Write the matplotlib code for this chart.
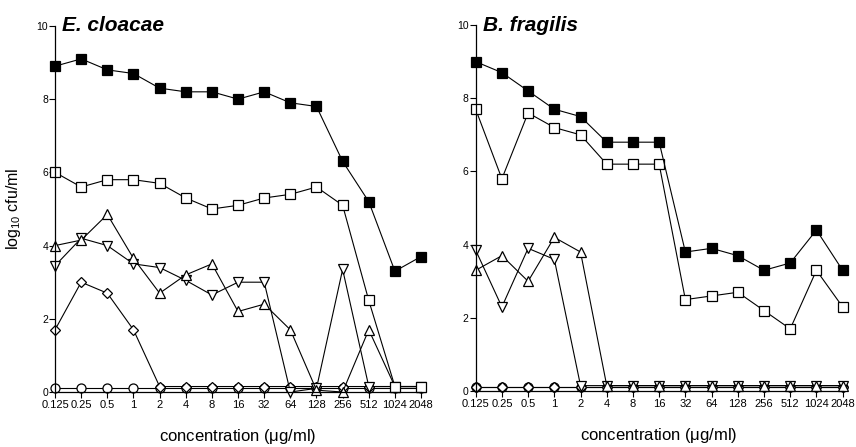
import matplotlib
matplotlib.use('Agg')
import matplotlib.pyplot as plt
import numpy as np

plt.rcParams['font.family'] = ['Liberation Sans', 'DejaVu Sans']

conc = ['0.125', '0.25', '0.5', '1', '2', '4', '8', '16', '32', '64',
        '128', '256', '512', '1024', '2048']

# E. cloacae
ec_filled_sq = [8.9, 9.1, 8.8, 8.7, 8.3, 8.2, 8.2, 8.0, 8.2, 7.9, 7.8, 6.3, 5.2, 3.3, 3.7]
ec_open_sq = [6.0, 5.6, 5.8, 5.8, 5.7, 5.3, 5.0, 5.1, 5.3, 5.4, 5.6, 5.1, 2.5, 0.15, 0.15]
ec_up_tri = [4.0, 4.15, 4.85, 3.65, 2.7, 3.2, 3.5, 2.2, 2.4, 1.7, 0.05, 0.0, 1.7, 0.15, 0.15]
ec_down_tri = [3.45, 4.2, 4.0, 3.5, 3.4, 3.05, 2.65, 3.0, 3.0, 0.0, 0.1, 3.35, 0.15, 0.15, 0.15]
ec_diamond = [1.7, 3.0, 2.7, 1.7, 0.15, 0.15, 0.15, 0.15, 0.15, 0.15, 0.15, 0.15, 0.15, 0.15, 0.15]
ec_circle = [0.1] * 15

# B. fragilis
bf_filled_sq = [9.0, 8.7, 8.2, 7.7, 7.5, 6.8, 6.8, 6.8, 3.8, 3.9, 3.7, 3.3, 3.5, 4.4, 3.3]
bf_open_sq = [7.7, 5.8, 7.6, 7.2, 7.0, 6.2, 6.2, 6.2, 2.5, 2.6, 2.7, 2.2, 1.7, 3.3, 2.3]
bf_up_tri = [3.3, 3.7, 3.0, 4.2, 3.8, 0.15, 0.15, 0.15, 0.15, 0.15, 0.15, 0.15, 0.15, 0.15, 0.15]
bf_down_tri = [3.85, 2.3, 3.9, 3.6, 0.15, 0.15, 0.15, 0.15, 0.15, 0.15, 0.15, 0.15, 0.15, 0.15, 0.15]
bf_diamond = [0.12] * 15
bf_circle = [0.1] * 15

panels = [
    ('E. cloacae', [ec_circle, ec_diamond, ec_down_tri, ec_up_tri, ec_open_sq, ec_filled_sq]),
    ('B. fragilis', [bf_circle, bf_diamond, bf_down_tri, bf_up_tri, bf_open_sq, bf_filled_sq]),
]
styles = [('o', 'white'), ('D', 'white'), ('v', 'white'), ('^', 'white'),
          ('s', 'white'), ('s', 'black')]
sizes = [6.5, 5.0, 7.0, 7.0, 6.5, 6.5]

fig = plt.figure(figsize=(8.56, 4.47), dpi=100)
axpos = [[0.0643, 0.123, 0.4276, 0.819], [0.5557, 0.125, 0.4287, 0.819]]

x = np.arange(len(conc))
for (title, series), pos in zip(panels, axpos):
    ax = fig.add_axes(pos)
    for s, (m, fc), ms in zip(series, styles, sizes):
        ax.plot(x, s, '-', color='black', lw=0.8, marker=m, mfc=fc, mec='black',
                mew=0.9, ms=ms, clip_on=False)
    ax.set_xlim(0, 14)
    ax.set_ylim(0, 10)
    ax.set_xticks(x)
    ax.set_xticklabels(conc, fontsize=8)
    ax.set_yticks([0, 2, 4, 6, 8, 10])
    ax.tick_params(axis='y', labelsize=7.5, length=4, width=0.8, pad=1)
    ax.tick_params(axis='x', length=4, width=0.8, pad=2)
    for side in ['top', 'right']:
        ax.spines[side].set_visible(False)
    for side in ['left', 'bottom']:
        ax.spines[side].set_linewidth(0.9)
    ax.set_xlabel('concentration ($\\mathregular{\\mu}$g/ml)', fontsize=12, labelpad=12)
    ax.text(0.02, 1.0, title, transform=ax.transAxes, fontsize=15,
            fontweight='bold', fontstyle='italic', ha='left', va='center')
    if title == 'E. cloacae':
        ax.set_ylabel('log$_{\\mathregular{10}}$ cfu/ml', fontsize=11.5, labelpad=10)

fig.savefig('out.png', dpi=100)
